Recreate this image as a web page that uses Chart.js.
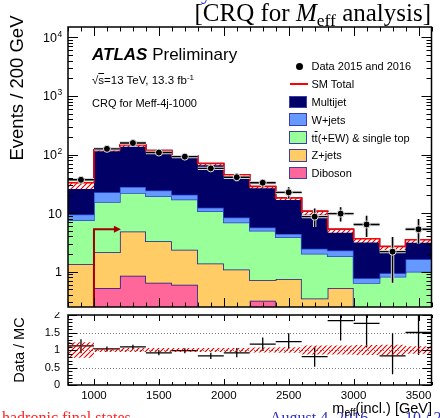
<!DOCTYPE html>
<html>
<head>
<meta charset="utf-8">
<script src="https://cdn.jsdelivr.net/npm/chart.js@4.4.0/dist/chart.umd.min.js"></script>
<style>
  html, body { margin: 0; padding: 0; background: #fff; overflow: hidden; }
  #wrap { position: relative; width: 440px; height: 418px; overflow: hidden;
          font-family: "Liberation Sans", Arial, sans-serif; color: #000; }
  canvas { position: absolute; left: 0; }
  #main { top: 0; }
  #ratio { top: 312px; }
  .txt { position: absolute; white-space: nowrap; line-height: 1; }
  .serif { font-family: "Liberation Serif", "Times New Roman", serif; }
  .bar { text-decoration: overline; }
  .sub { font-size: 0.7em; position: relative; top: 0.3em; }
  .sup { font-size: 0.7em; position: relative; top: -0.45em; }
  .lrow { position: absolute; left: 286px; height: 17.8px; display: flex; align-items: center; font-size: 11px; }
  .lkey { width: 24px; height: 17.8px; position: relative; margin-right: 1.5px; }
</style>
</head>
<body>
<div id="wrap">
  <canvas id="main" width="440" height="312"></canvas>
  <canvas id="ratio" width="440" height="106"></canvas>

  <div class="txt serif" style="left:201px; top:-19.5px; font-size:22px; color:#2020ff;">y</div>
  <div class="txt serif" style="right:9px; top:0px; font-size:25px;">[CRQ for <i>M</i><span class="sub">eff</span> analysis]</div>

  <div class="txt" style="left:92px; top:45.6px; font-size:17px;"><b><i>ATLAS</i></b> Preliminary</div>
  <div class="txt" style="left:92px; top:74.5px; font-size:11.5px;">√<span class="bar">s</span>=13 TeV, 13.3 fb<span class="sup">-1</span></div>
  <div class="txt" style="left:92px; top:97.7px; font-size:11px;">CRQ for Meff-4j-1000</div>

  <div class="txt" style="left:17px; top:88px; font-size:18.5px; transform:translate(-50%,-50%) rotate(-90deg);">Events / 200 GeV</div>
  <div class="txt" style="left:19px; top:349.5px; font-size:14.5px; transform:translate(-50%,-50%) rotate(-90deg);">Data / MC</div>

  <div class="txt serif" style="left:2px; top:409.5px; font-size:16px; color:#ff2020;">hadronic final states</div>
  <div class="txt serif" style="left:270px; top:410px; font-size:16px; color:#3030c0;">August 4, 2016</div>
  <div class="txt serif" style="left:405px; top:410px; font-size:16px; color:#3030c0;">10 / 20</div>
  <div class="txt" style="right:8px; top:400.7px; font-size:14.5px;">m<span class="sub">eff</span>(incl.) [GeV]</div>

  <div id="legend"></div>
</div>

<script>
// 200 GeV bins of m_eff
const binEdges = [800, 1000, 1200, 1400, 1600, 1800, 2000, 2200, 2400, 2600, 2800, 3000, 3200, 3400, 3600];

// background expectation per bin, stacked bottom to top
const diboson  = [0, 0.53, 0.85, 0.65, 0.60, 0, 0, 0.32, 0, 0, 0, 0, 0, 0];
const zjets    = [1.35, 1.61, 4.02, 2.66, 1.77, 1.38, 1.09, 0.40, 0.75, 0.35, 0.53, 0, 0, 0];
const ttbar    = [6.19, 13.36, 17.13, 16.09, 14.63, 9.42, 5.81, 4.28, 3.12, 1.68, 1.30, 0.64, 0.82, 1.00];
const wjets    = [1.96, 7.1, 6.0, 5.0, 3.6, 1.5, 1.5, 0.7, 0.53, 0.43, 0.48, 0.13, 0.12, 0.63];
const multijet = [23.5, 98.4, 117, 92.6, 73.4, 57.7, 36.6, 22.8, 13.8, 8.34, 2.99, 2.88, 1.76, 1.87];

// relative uncertainty on the SM total
const mcRelErr = [0.22, 0.06, 0.06, 0.06, 0.06, 0.06, 0.06, 0.07, 0.08, 0.13, 0.13, 0.14, 0.15, 0.11];

// observed events (2015+2016) with error bar ends
const dataObs = [37, 125, 157, 108, 92, 58, 41, 33, 22.6, 8.7, 9.8, 6.4, 2.2, 5.3];
const dataLo  = [31, 114, 145, 98, 83, 51, 35, 28, 18, 5.8, 7.2, 3.9, 0.65, 3.0];
const dataHi  = [43, 136, 170, 118, 102, 66, 48, 38, 27.5, 12, 12.6, 9.0, 3.9, 7.9];

// data / MC
const ratioVal = [1.12, 1.03, 1.09, 0.92, 0.98, 0.83, 0.92, 1.17, 1.24, 0.81, 1.84, 1.76, 0.83, 1.50];
const ratioLo  = [0.91, 0.96, 1.03, 0.85, 0.91, 0.74, 0.79, 0.98, 1.04, 0.52, 1.27, 1.07, 0.31, 0.86];
const ratioHi  = [1.31, 1.10, 1.15, 0.99, 1.05, 0.92, 1.06, 1.36, 1.48, 1.09, 2.44, 2.46, 1.48, 2.40];

const seriesNames  = ['Diboson', 'Z+jets', 't<span class="bar">t</span>(+EW) &amp; single top', 'W+jets', 'Multijet'];
const seriesFill   = ['#ff6699', '#ffcc66', '#99ff99', '#6699ff', '#000066'];
const seriesLine   = ['#14148c', '#14148c', '#2447c8', '#2a52e0', '#000066'];

const xTickValues = [1000, 1500, 2000, 2500, 3000, 3500];
const yDecades = [1, 10, 100, 1000, 10000];
const yDecadeLabels = ['1', '10', '10^2', '10^3', '10^4'];
const ratioTicks = [0, 0.5, 1, 1.5, 2];
const ratioTickLabels = ['0', '0.5', '1', '1.5', '2'];

// signal-region cut shown on the plot
const cutValue = 1000, cutArrowTo = 1200, cutArrowY = 5.3;

const font = '"Liberation Sans", Arial, sans-serif';
const nBins = binEdges.length - 1;
const centers = binEdges.slice(0, -1).map((e, i) => (e + binEdges[i + 1]) / 2);

// histogram as step points at the bin edges
function stepPoints(vals, floor) {
  const pts = vals.map((v, i) => ({ x: binEdges[i], y: Math.max(v, floor) }));
  pts.push({ x: binEdges[nBins], y: Math.max(vals[nBins - 1], floor) });
  return pts;
}

// cumulative stack
const layers = [diboson, zjets, ttbar, wjets, multijet];
const cumulative = [];
let running = new Array(nBins).fill(0);
layers.forEach(l => { running = running.map((v, i) => v + l[i]); cumulative.push(running); });
const total = cumulative[cumulative.length - 1];

function hatchPattern(ctx, bg) {
  const t = document.createElement('canvas');
  t.width = 5; t.height = 5;
  const g = t.getContext('2d');
  if (bg) { g.fillStyle = bg; g.fillRect(0, 0, 5, 5); }
  g.strokeStyle = '#e00000'; g.lineWidth = 1.1;
  g.beginPath();
  g.moveTo(0, 5); g.lineTo(5, 0);
  g.moveTo(-1, 1); g.lineTo(1, -1);
  g.moveTo(4, 6); g.lineTo(6, 4);
  g.stroke();
  return ctx.createPattern(t, 'repeat');
}

// data error bars (bin width horizontally)
const errorBars = {
  id: 'errorBars',
  beforeDatasetDraw(chart, args) {
    const ds = chart.data.datasets[args.index];
    if (!ds.errLow) return;
    const { ctx, chartArea: a, scales: { x, y } } = chart;
    ctx.save();
    ctx.beginPath(); ctx.rect(a.left, a.top, a.right - a.left, a.bottom - a.top); ctx.clip();
    const passes = ds.errHalo ? [[ds.errHalo, 3.4], ['#000', 1.4]] : [['#000', 1.3]];
    passes.forEach(([col, w]) => {
      ctx.strokeStyle = col; ctx.lineWidth = w; ctx.beginPath();
      ds.data.forEach((p, i) => {
        const px = x.getPixelForValue(p.x), py = y.getPixelForValue(p.y);
        ctx.moveTo(x.getPixelForValue(binEdges[i]), py);
        ctx.lineTo(x.getPixelForValue(binEdges[i + 1]), py);
        ctx.moveTo(px, y.getPixelForValue(ds.errLow[i]));
        ctx.lineTo(px, y.getPixelForValue(ds.errHigh[i]));
      });
      ctx.stroke();
    });
    ctx.restore();
  }
};

// ROOT-like frame with inward ticks on all four sides
function frameTicks(cfg) {
  return {
    id: 'frameTicks',
    beforeDatasetsDraw(chart) {
      if (!cfg.dotted) return;
      const { ctx, chartArea: a, scales: { y } } = chart;
      ctx.save();
      ctx.strokeStyle = '#808080'; ctx.lineWidth = 1; ctx.setLineDash([1, 2]);
      cfg.dotted.forEach(v => {
        const py = Math.round(y.getPixelForValue(v)) + 0.5;
        ctx.beginPath(); ctx.moveTo(a.left, py); ctx.lineTo(a.right, py); ctx.stroke();
      });
      ctx.restore();
    },
    afterDraw(chart) {
      const { ctx, chartArea: a, scales: { x, y } } = chart;
      ctx.save();
      ctx.strokeStyle = '#000'; ctx.lineWidth = 1;
      ctx.beginPath();
      for (let v = x.min; v <= x.max + 1e-6; v += cfg.xMinor) {
        const major = v % cfg.xMajor === 0;
        const len = major ? cfg.xMajorLen : cfg.xMinorLen;
        const px = Math.round(x.getPixelForValue(v)) + 0.5;
        ctx.moveTo(px, a.bottom); ctx.lineTo(px, a.bottom - len);
        ctx.moveTo(px, a.top); ctx.lineTo(px, a.top + len);
      }
      cfg.yTicks.forEach(([v, major]) => {
        const len = major ? cfg.yMajorLen : cfg.yMinorLen;
        const py = Math.round(y.getPixelForValue(v)) + 0.5;
        ctx.moveTo(a.left, py); ctx.lineTo(a.left + len, py);
        ctx.moveTo(a.right, py); ctx.lineTo(a.right - len, py);
      });
      ctx.stroke();
      ctx.lineWidth = 1.5;
      ctx.strokeRect(a.left, a.top, a.right - a.left, a.bottom - a.top);
      if (cfg.labels) cfg.labels(chart);
      ctx.restore();
    }
  };
}

// log-axis ticks
const mainYTicks = [];
[0.1, 1, 10, 100, 1000, 10000].forEach(d => {
  for (let k = 1; k <= 9; k++) {
    const v = k * d;
    if (v >= 0.25 && v <= 15000) mainYTicks.push([v, k === 1]);
  }
});
const ratioYTicks = [];
for (let k = 0; k <= 20; k++) ratioYTicks.push([k / 10, k % 5 === 0]);

function drawLogLabels(chart) {
  const { ctx, scales: { y } } = chart;
  ctx.fillStyle = '#000';
  ctx.textBaseline = 'middle';
  ctx.textAlign = 'right';
  yDecades.forEach((v, i) => {
    const py = y.getPixelForValue(v);
    const [base, exp] = yDecadeLabels[i].split('^');
    if (exp) {
      ctx.font = '12.5px ' + font;
      ctx.fillText(base, 57, py + 1);
      ctx.font = '8.5px ' + font;
      ctx.textAlign = 'left';
      ctx.fillText(exp, 57.5, py - 3);
      ctx.textAlign = 'right';
    } else {
      ctx.font = '12.5px ' + font;
      ctx.fillText(base, 62, py + 1);
    }
  });
}

// cut line with arrow
const cutArrow = {
  id: 'cutArrow',
  afterDatasetsDraw(chart) {
    const { ctx, chartArea: a, scales: { x, y } } = chart;
    const px = x.getPixelForValue(cutValue), py = y.getPixelForValue(cutArrowY);
    const pe = x.getPixelForValue(cutArrowTo);
    ctx.save();
    ctx.strokeStyle = '#a00000'; ctx.fillStyle = '#a00000'; ctx.lineWidth = 2;
    ctx.beginPath();
    ctx.moveTo(px, a.bottom); ctx.lineTo(px, py); ctx.lineTo(pe - 4, py);
    ctx.stroke();
    ctx.beginPath();
    ctx.moveTo(pe + 1, py); ctx.lineTo(pe - 6, py - 3.5); ctx.lineTo(pe - 6, py + 3.5);
    ctx.closePath(); ctx.fill();
    ctx.restore();
  }
};

const mainCtx = document.getElementById('main').getContext('2d');
const ratioCtx = document.getElementById('ratio').getContext('2d');

const stackSets = cumulative.map((c, i) => ({
  data: stepPoints(c, 1e-3),
  stepped: true,
  borderColor: seriesLine[i],
  borderWidth: 1.5,
  backgroundColor: seriesFill[i],
  fill: i === 0 ? 'start' : '-1',
  pointRadius: 0,
  order: 10 - i
}));

new Chart(mainCtx, {
  type: 'line',
  data: {
    datasets: [
      ...stackSets,
      { data: stepPoints(total.map((t, i) => t * (1 - mcRelErr[i])), 1e-3), stepped: true,
        borderWidth: 0, pointRadius: 0, fill: false, order: 4 },
      { data: stepPoints(total, 1e-3), stepped: true, borderWidth: 0, pointRadius: 0,
        fill: '-1', backgroundColor: hatchPattern(mainCtx, '#ffffff'), order: 3 },
      { data: stepPoints(total, 1e-3), stepped: true, borderColor: '#ff0000', borderWidth: 1.5,
        pointRadius: 0, fill: false, order: 2 },
      { data: centers.map((c, i) => ({ x: c, y: dataObs[i] })), showLine: false,
        pointRadius: 3.5, pointBackgroundColor: '#000', pointBorderColor: '#e0e0e0', pointBorderWidth: 1,
        errLow: dataLo, errHigh: dataHi, errHalo: '#d4d4d4', order: 0 }
    ]
  },
  options: {
    responsive: false, animation: false,
    layout: { padding: { left: 68, right: 8.5, top: 27, bottom: 2 } },
    plugins: { legend: { display: false }, tooltip: { enabled: false } },
    scales: {
      x: { type: 'linear', min: 800, max: 3600, display: false },
      y: { type: 'logarithmic', min: 0.25, max: 15000, display: false }
    }
  },
  plugins: [errorBars, cutArrow, frameTicks({
    xMinor: 100, xMajor: 500, xMajorLen: 9, xMinorLen: 4.5,
    yTicks: mainYTicks, yMajorLen: 10, yMinorLen: 5, labels: drawLogLabels
  })]
});

new Chart(ratioCtx, {
  type: 'line',
  data: {
    datasets: [
      { data: stepPoints(mcRelErr.map(e => 1 - e), -10), stepped: true, borderWidth: 0, pointRadius: 0, fill: false },
      { data: stepPoints(mcRelErr.map(e => 1 + e), -10), stepped: true, borderWidth: 0, pointRadius: 0,
        fill: '-1', backgroundColor: hatchPattern(ratioCtx, null) },
      { data: centers.map((c, i) => ({ x: c, y: ratioVal[i] })), showLine: false, pointRadius: 0,
        errLow: ratioLo, errHigh: ratioHi }
    ]
  },
  options: {
    responsive: false, animation: false,
    layout: { padding: { left: 0, right: 8.5, top: 3, bottom: 0 } },
    plugins: { legend: { display: false }, tooltip: { enabled: false } },
    scales: {
      x: {
        type: 'linear', min: 800, max: 3600,
        grid: { display: false, drawTicks: false }, border: { display: false },
        afterBuildTicks: s => { s.ticks = xTickValues.map(v => ({ value: v })); },
        afterFit: s => { s.height = 33; s.paddingLeft = 0; s.paddingRight = 0; },
        ticks: { color: '#000', padding: 4, maxRotation: 0, autoSkip: false,
                 font: { family: font, size: 11.5 }, callback: v => String(v) }
      },
      y: {
        type: 'linear', min: 0, max: 2,
        grid: { display: false, drawTicks: false }, border: { display: false },
        afterBuildTicks: s => { s.ticks = ratioTicks.map(v => ({ value: v })); },
        afterFit: s => { s.width = 68; s.paddingTop = 0; s.paddingBottom = 0; },
        ticks: { color: '#000', padding: 8, font: { family: font, size: 11 },
                 callback: (v, i) => ratioTickLabels[i] }
      }
    }
  },
  plugins: [errorBars, frameTicks({
    xMinor: 100, xMajor: 500, xMajorLen: 6, xMinorLen: 3,
    yTicks: ratioYTicks, yMajorLen: 9, yMinorLen: 4.5, dotted: [0.5, 1, 1.5]
  })]
});

// legend, top entry first
const legend = document.getElementById('legend');
const legendTop = 66.4 - 8.9, legendStep = 17.8;
const rows = [
  { key: '<div style="position:absolute;left:9.5px;top:5.4px;width:7px;height:7px;border-radius:50%;background:#000"></div>', label: 'Data 2015 and 2016' },
  { key: '<div style="position:absolute;left:4px;top:8.2px;width:18px;height:1.5px;background:#ff0000"></div>', label: 'SM Total' }
];
for (let i = layers.length - 1; i >= 0; i--) {
  rows.push({
    key: '<div style="position:absolute;left:3px;top:2.6px;width:16px;height:10.6px;border:1.3px solid #3c3caa;background:' + seriesFill[i] + '"></div>',
    label: seriesNames[i]
  });
}
rows.forEach((r, i) => {
  const d = document.createElement('div');
  d.className = 'lrow';
  d.style.top = (legendTop + i * legendStep) + 'px';
  d.innerHTML = '<div class="lkey">' + r.key + '</div><span>' + r.label + '</span>';
  legend.appendChild(d);
});
</script>
</body>
</html>
